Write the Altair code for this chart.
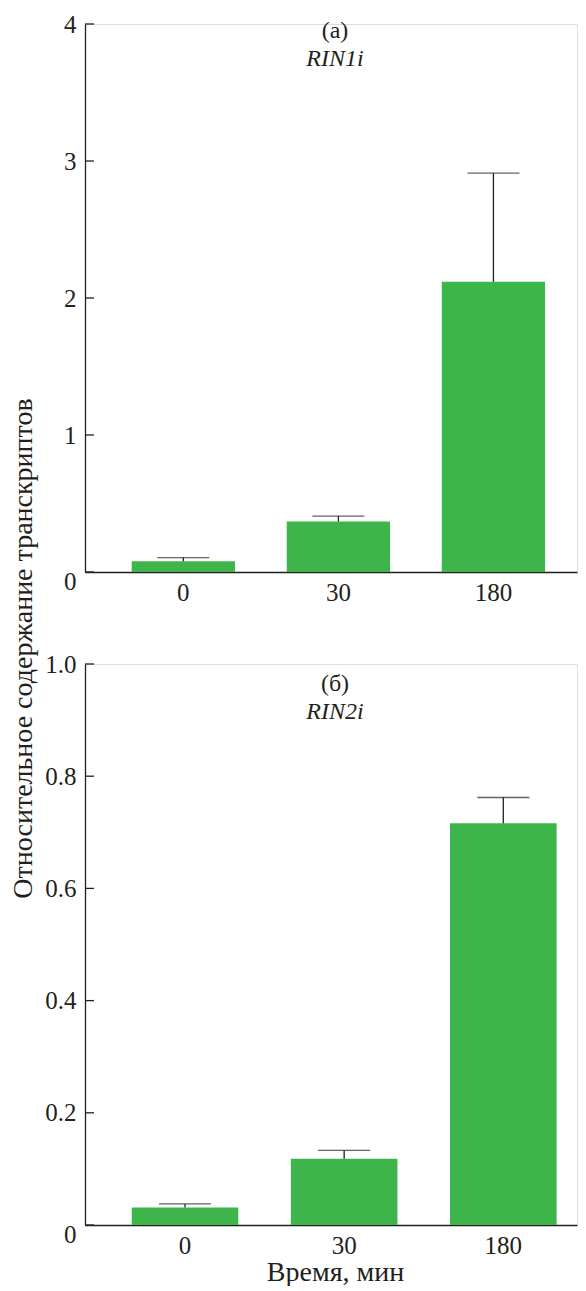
import altair as alt
import pandas as pd

times = ["0", "30", "180"]
rin1_mean = [0.079, 0.368, 2.118]
rin1_top = [0.105, 0.408, 2.911]
rin2_mean = [0.031, 0.118, 0.716]
rin2_top = [0.0376, 0.133, 0.762]
ticks_a = [0, 1, 2, 3, 4]
ticks_b = [0, 0.2, 0.4, 0.6, 0.8, 1.0]
letters = ["(a)", "(б)"]
genes = ["RIN1i", "RIN2i"]
y_title = "Относительное содержание транскриптов"
x_title = "Время, мин"

FONT = "Liberation Serif"
GREEN = "#3db54a"
INK = "#231f20"
W = 492
LFS = 25   # tick labels
TFS = 28   # axis titles
AFS = 24   # panel annotations
CX = 250   # horizontal centre of the annotations / x title


def panel(mean, top, ymax, ticks, lab_expr, h, letter, gene, xscale,
          show_xtitle, show_ytitle, letter_y, gene_y):
    df = pd.DataFrame({"t": times, "m": mean, "top": top})
    xaxis = alt.Axis(labelAngle=0, ticks=False, tickSize=0, labelFont=FONT,
                     labelFontSize=LFS, labelColor=INK, labelPadding=8,
                     domainColor=INK, domainWidth=1.3, grid=False,
                     title=x_title if show_xtitle else None,
                     titleFont=FONT, titleFontSize=TFS, titleFontWeight="normal",
                     titleColor=INK, titleBaseline="alphabetic", titleY=55,
                     titleX=CX, titleAlign="center")
    X = alt.X("t:N", sort=times, scale=xscale, axis=xaxis)

    def Y(field):
        yaxis = alt.Axis(values=ticks, labelExpr=lab_expr, ticks=False, tickSize=0,
                         labelFont=FONT, labelFontSize=LFS, labelColor=INK,
                         labelPadding=9, domainColor=INK, domainWidth=1.3,
                         grid=False,
                         labelOffset={"condition": {"test": "datum.value === 0", "value": 9}, "value": 0},
                         title=y_title if show_ytitle else None,
                         titleFont=FONT, titleFontSize=TFS, titleFontWeight="normal",
                         titleColor=INK, titleAngle=-90, titleAlign="center",
                         titleBaseline="alphabetic", titleX=-54, titleY=-16)
        return alt.Y(field, type="quantitative",
                     scale=alt.Scale(domain=[0, ymax], nice=False, zero=True),
                     axis=yaxis)

    base = alt.Chart(df)
    bars = base.mark_bar(color=GREEN).encode(x=X, y=Y("m"))
    stems = base.mark_rule(color=INK, strokeWidth=1.3).encode(x=X, y=Y("m"), y2="top")
    caps = base.mark_tick(color=INK, thickness=1.3, size=52).encode(x=X, y=Y("top"))
    tdf = pd.DataFrame({"v": ticks})
    yt = alt.Chart(tdf).mark_rule(color=INK, strokeWidth=1.3).encode(
        y=Y("v"), x=alt.value(0), x2=alt.value(9))
    ldf = pd.DataFrame({"letter": [letter], "gene": [gene]})
    t1 = alt.Chart(ldf).mark_text(font=FONT, fontSize=AFS, color=INK,
                                  baseline="alphabetic", align="center").encode(
        text="letter:N", x=alt.value(CX), y=alt.value(letter_y))
    t2 = alt.Chart(ldf).mark_text(font=FONT, fontSize=AFS, color=INK, fontStyle="italic",
                                  baseline="alphabetic", align="center").encode(
        text="gene:N", x=alt.value(CX), y=alt.value(gene_y))
    return alt.layer(bars, stems, caps, yt, t1, t2).properties(width=W, height=h)


pa = panel(rin1_mean, rin1_top, 4, ticks_a, "format(datum.value, 'd')", 548,
           letters[0], genes[0],
           alt.Scale(paddingInner=0.3338, paddingOuter=0.2535, align=0.594),
           False, False, 13.5, 42)
pb = panel(rin2_mean, rin2_top, 1, ticks_b,
           "datum.value === 0 ? '0' : format(datum.value, '.1f')", 561,
           letters[1], genes[1],
           alt.Scale(paddingInner=0.3302, paddingOuter=0.2108, align=0.696),
           True, True, 26.5, 54.5)

chart = alt.vconcat(pa, pb, spacing=92, bounds="flush").configure_view(
    stroke=None).configure_axis(labelFont=FONT, labelFontSize=LFS,
                                titleFont=FONT).configure(
    background="white").properties(
    padding={"left": 0, "top": 3, "right": 0, "bottom": -1})

chart.save("out.html", embed_options={"renderer": "svg", "actions": False})
